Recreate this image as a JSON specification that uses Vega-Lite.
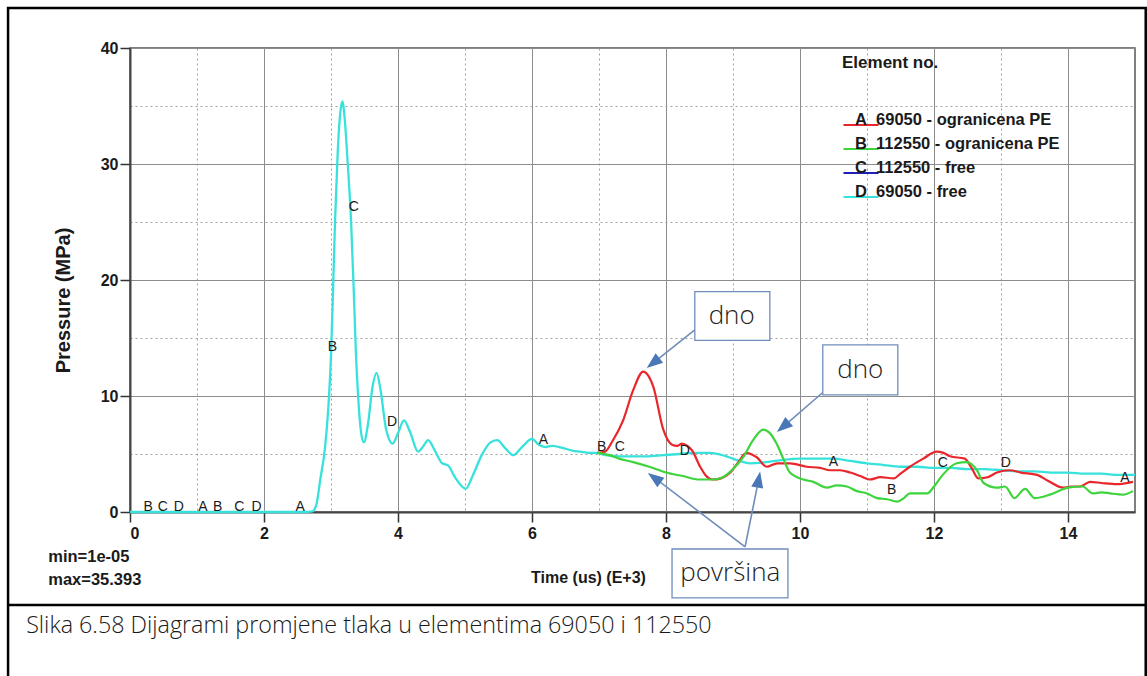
{
  "$schema": "https://vega.github.io/schema/vega-lite/v6.json",
  "width": 1005,
  "height": 464,
  "autosize": {"type": "none"},
  "padding": {"left": 130, "top": 48, "right": 12, "bottom": 164},
  "background": "white",
  "config": {
    "view": {"stroke": "#555555", "strokeWidth": 1.5},
    "font": "Liberation Sans",
    "axis": {
      "labelFont": "Liberation Sans",
      "labelFontSize": 16,
      "labelFontWeight": "bold",
      "labelColor": "#1a1a1a",
      "titleFont": "Liberation Sans",
      "titleFontWeight": "bold",
      "titleColor": "#1a1a1a",
      "domainColor": "#444444",
      "domainWidth": 2,
      "tickColor": "#333333",
      "tickWidth": 1.5,
      "tickSize": 10,
      "gridColor": "#8c8c8c",
      "gridWidth": 1,
      "gridOpacity": 1
    }
  },
  "datasets": {
    "curves": [
      {"s":"D","t":0,"p":0},{"s":"D","t":0.5,"p":0},{"s":"D","t":1,"p":0},{"s":"D","t":1.5,"p":0},{"s":"D","t":2,"p":0},{"s":"D","t":2.6,"p":0},
      {"s":"D","t":2.72,"p":0.05},{"s":"D","t":2.78,"p":0.6},{"s":"D","t":2.84,"p":2.8},{"s":"D","t":2.91,"p":5.5},{"s":"D","t":2.96,"p":9},
      {"s":"D","t":3.0,"p":13.5},{"s":"D","t":3.03,"p":19},{"s":"D","t":3.06,"p":25},{"s":"D","t":3.1,"p":31},{"s":"D","t":3.14,"p":34.5},
      {"s":"D","t":3.17,"p":35.39},{"s":"D","t":3.21,"p":33.5},{"s":"D","t":3.25,"p":30},{"s":"D","t":3.3,"p":25},{"s":"D","t":3.34,"p":19},
      {"s":"D","t":3.37,"p":14},{"s":"D","t":3.41,"p":9.5},{"s":"D","t":3.45,"p":6.8},{"s":"D","t":3.49,"p":6.0},{"s":"D","t":3.55,"p":7.5},
      {"s":"D","t":3.62,"p":10.8},{"s":"D","t":3.68,"p":12.0},{"s":"D","t":3.74,"p":10.5},{"s":"D","t":3.82,"p":7.2},{"s":"D","t":3.92,"p":5.9},
      {"s":"D","t":4.0,"p":6.8},{"s":"D","t":4.09,"p":7.9},{"s":"D","t":4.18,"p":6.9},{"s":"D","t":4.3,"p":5.2},{"s":"D","t":4.38,"p":5.7},
      {"s":"D","t":4.45,"p":6.2},{"s":"D","t":4.55,"p":5.3},{"s":"D","t":4.66,"p":4.2},{"s":"D","t":4.75,"p":4.0},{"s":"D","t":4.85,"p":3.0},
      {"s":"D","t":5.01,"p":2.0},{"s":"D","t":5.12,"p":3.2},{"s":"D","t":5.25,"p":4.9},{"s":"D","t":5.38,"p":6.0},{"s":"D","t":5.48,"p":6.2},
      {"s":"D","t":5.6,"p":5.5},{"s":"D","t":5.72,"p":4.9},{"s":"D","t":5.85,"p":5.6},{"s":"D","t":6.0,"p":6.3},{"s":"D","t":6.1,"p":5.8},
      {"s":"D","t":6.2,"p":5.6},{"s":"D","t":6.3,"p":5.7},{"s":"D","t":6.47,"p":5.5},{"s":"D","t":6.6,"p":5.3},{"s":"D","t":6.72,"p":5.2},
      {"s":"D","t":6.85,"p":5.1},{"s":"D","t":6.97,"p":5.1},{"s":"D","t":7.1,"p":4.9},{"s":"D","t":7.3,"p":4.8},{"s":"D","t":7.46,"p":4.8},
      {"s":"D","t":7.7,"p":4.8},{"s":"D","t":7.96,"p":4.9},{"s":"D","t":8.2,"p":5.0},{"s":"D","t":8.4,"p":5.1},{"s":"D","t":8.66,"p":5.1},
      {"s":"D","t":8.9,"p":4.8},{"s":"D","t":9.1,"p":4.4},{"s":"D","t":9.25,"p":4.2},{"s":"D","t":9.5,"p":4.3},{"s":"D","t":9.75,"p":4.5},
      {"s":"D","t":10.0,"p":4.6},{"s":"D","t":10.25,"p":4.6},{"s":"D","t":10.5,"p":4.6},{"s":"D","t":10.75,"p":4.4},{"s":"D","t":11.0,"p":4.2},
      {"s":"D","t":11.25,"p":4.05},{"s":"D","t":11.5,"p":3.9},{"s":"D","t":11.75,"p":3.9},{"s":"D","t":12.0,"p":3.8},{"s":"D","t":12.25,"p":3.8},
      {"s":"D","t":12.5,"p":3.7},{"s":"D","t":12.75,"p":3.7},{"s":"D","t":13.0,"p":3.6},{"s":"D","t":13.25,"p":3.5},{"s":"D","t":13.5,"p":3.5},
      {"s":"D","t":13.75,"p":3.4},{"s":"D","t":14.0,"p":3.4},{"s":"D","t":14.25,"p":3.3},{"s":"D","t":14.5,"p":3.3},{"s":"D","t":14.75,"p":3.2},
      {"s":"D","t":15.0,"p":3.2},
      {"s":"A","t":6.97,"p":5.1},{"s":"A","t":7.09,"p":5.2},{"s":"A","t":7.2,"p":6.1},{"s":"A","t":7.36,"p":7.9},{"s":"A","t":7.51,"p":10.5},
      {"s":"A","t":7.66,"p":12.1},{"s":"A","t":7.81,"p":10.8},{"s":"A","t":7.96,"p":7.1},{"s":"A","t":8.09,"p":5.8},{"s":"A","t":8.17,"p":5.7},
      {"s":"A","t":8.24,"p":5.9},{"s":"A","t":8.32,"p":5.7},{"s":"A","t":8.39,"p":5.3},{"s":"A","t":8.51,"p":3.9},{"s":"A","t":8.6,"p":3.1},
      {"s":"A","t":8.7,"p":2.8},{"s":"A","t":8.82,"p":2.9},{"s":"A","t":8.96,"p":3.4},{"s":"A","t":9.08,"p":4.3},{"s":"A","t":9.2,"p":5.1},
      {"s":"A","t":9.3,"p":4.9},{"s":"A","t":9.36,"p":4.7},{"s":"A","t":9.5,"p":3.9},{"s":"A","t":9.66,"p":4.2},{"s":"A","t":9.85,"p":4.2},
      {"s":"A","t":10.1,"p":3.9},{"s":"A","t":10.3,"p":3.8},{"s":"A","t":10.45,"p":3.6},{"s":"A","t":10.6,"p":3.6},{"s":"A","t":10.75,"p":3.4},
      {"s":"A","t":10.9,"p":3.1},{"s":"A","t":11.04,"p":2.8},{"s":"A","t":11.2,"p":3.0},{"s":"A","t":11.4,"p":2.9},{"s":"A","t":11.5,"p":3.3},
      {"s":"A","t":11.64,"p":3.9},{"s":"A","t":11.84,"p":4.6},{"s":"A","t":12.04,"p":5.2},{"s":"A","t":12.14,"p":5.1},{"s":"A","t":12.24,"p":4.8},
      {"s":"A","t":12.46,"p":4.6},{"s":"A","t":12.56,"p":3.8},{"s":"A","t":12.66,"p":2.9},{"s":"A","t":12.8,"p":3.0},{"s":"A","t":12.94,"p":3.4},
      {"s":"A","t":13.13,"p":3.6},{"s":"A","t":13.3,"p":3.4},{"s":"A","t":13.54,"p":3.2},{"s":"A","t":13.7,"p":2.7},{"s":"A","t":13.93,"p":2.1},
      {"s":"A","t":14.05,"p":2.2},{"s":"A","t":14.18,"p":2.2},{"s":"A","t":14.33,"p":2.6},{"s":"A","t":14.5,"p":2.5},{"s":"A","t":14.73,"p":2.4},
      {"s":"A","t":14.97,"p":2.6},
      {"s":"B","t":6.97,"p":5.1},{"s":"B","t":7.16,"p":4.9},{"s":"B","t":7.3,"p":4.6},{"s":"B","t":7.51,"p":4.3},{"s":"B","t":7.75,"p":3.9},
      {"s":"B","t":8.0,"p":3.4},{"s":"B","t":8.25,"p":3.1},{"s":"B","t":8.5,"p":2.8},{"s":"B","t":8.7,"p":2.8},{"s":"B","t":8.85,"p":3.0},
      {"s":"B","t":9.0,"p":3.7},{"s":"B","t":9.15,"p":4.7},{"s":"B","t":9.3,"p":6.2},{"s":"B","t":9.45,"p":7.1},{"s":"B","t":9.55,"p":6.8},
      {"s":"B","t":9.65,"p":5.9},{"s":"B","t":9.75,"p":4.6},{"s":"B","t":9.85,"p":3.4},{"s":"B","t":10.05,"p":2.8},{"s":"B","t":10.2,"p":2.6},
      {"s":"B","t":10.4,"p":2.1},{"s":"B","t":10.55,"p":2.3},{"s":"B","t":10.7,"p":2.2},{"s":"B","t":10.85,"p":1.8},{"s":"B","t":11.0,"p":1.6},
      {"s":"B","t":11.15,"p":1.2},{"s":"B","t":11.3,"p":1.1},{"s":"B","t":11.45,"p":0.9},{"s":"B","t":11.55,"p":1.2},{"s":"B","t":11.64,"p":1.6},
      {"s":"B","t":11.9,"p":1.6},{"s":"B","t":12.0,"p":2.2},{"s":"B","t":12.13,"p":3.2},{"s":"B","t":12.34,"p":4.2},{"s":"B","t":12.49,"p":4.3},
      {"s":"B","t":12.64,"p":3.6},{"s":"B","t":12.74,"p":2.5},{"s":"B","t":12.94,"p":2.1},{"s":"B","t":13.06,"p":2.2},{"s":"B","t":13.2,"p":1.2},
      {"s":"B","t":13.36,"p":2.0},{"s":"B","t":13.5,"p":1.2},{"s":"B","t":13.73,"p":1.5},{"s":"B","t":14.0,"p":2.1},{"s":"B","t":14.22,"p":2.2},
      {"s":"B","t":14.37,"p":1.6},{"s":"B","t":14.5,"p":1.7},{"s":"B","t":14.63,"p":1.6},{"s":"B","t":14.82,"p":1.5},{"s":"B","t":14.97,"p":1.8}
    ],
    "letters": [
      {"txt":"B","t":0.27,"p":0.45},{"txt":"C","t":0.49,"p":0.45},{"txt":"D","t":0.73,"p":0.45},{"txt":"A","t":1.09,"p":0.45},
      {"txt":"B","t":1.31,"p":0.45},{"txt":"C","t":1.63,"p":0.45},{"txt":"D","t":1.89,"p":0.45},{"txt":"A","t":2.54,"p":0.45},
      {"txt":"C","t":3.34,"p":26.3},{"txt":"B","t":3.02,"p":14.2},{"txt":"D","t":3.91,"p":7.8},{"txt":"A","t":6.17,"p":6.2},
      {"txt":"B","t":7.04,"p":5.6},{"txt":"C","t":7.31,"p":5.6},{"txt":"D","t":8.28,"p":5.3},{"txt":"A","t":10.5,"p":4.3},
      {"txt":"B","t":11.37,"p":1.9},{"txt":"C","t":12.13,"p":4.2},{"txt":"D","t":13.07,"p":4.2},{"txt":"A","t":14.85,"p":2.9}
    ],
    "boxes": [
      {"txt":"dno","t":8.43,"t2":9.55,"p":19.0,"p2":14.8,"tc":8.98,"pc":16.9},
      {"txt":"dno","t":10.34,"t2":11.46,"p":14.4,"p2":10.1,"tc":10.9,"pc":12.2},
      {"txt":"površina","t":8.09,"t2":9.82,"p":-3.19,"p2":-7.41,"tc":8.96,"pc":-5.3}
    ],
    "arrows": [
      {"id":"a1","t":8.43,"p":15.7,"t2":7.82,"p2":12.9},
      {"id":"a2","t":10.34,"p":10.3,"t2":9.76,"p2":7.4},
      {"id":"a3","t":9.18,"p":-3.0,"t2":7.84,"p2":2.9},
      {"id":"a4","t":9.18,"p":-3.0,"t2":9.38,"p2":2.7}
    ],
    "notes": [
      {"txt":"min=1e-05","t":-1.22,"p":-3.9},
      {"txt":"max=35.393","t":-1.22,"p":-5.9}
    ],
    "caption": [
      {"txt":"Slika 6.58 Dijagrami promjene tlaka u elementima 69050 i 112550","t":-1.55,"p":-9.83}
    ]
  },
  "layer": [
    {
      "data": {"name": "curves"},
      "transform": [{"filter": "datum.s === 'D'"}],
      "mark": {"type": "line", "strokeWidth": 2.3, "interpolate": "monotone"},
      "encoding": {
        "x": {
          "field": "t", "type": "quantitative",
          "scale": {"domain": [0, 15], "nice": false},
          "axis": {
            "values": [0,1,2,3,4,5,6,7,8,9,10,11,12,13,14],
            "format": "d",
            "title": "Time (us) (E+3)",
            "titleFontSize": 16,
            "titleX": 458,
            "titleY": 65,
            "titleBaseline": "middle",
            "titleAlign": "center",
            "labelExpr": "datum.value % 2 === 0 ? datum.label : ''",
            "labelPadding": 3,
            "tickOpacity": {"condition": {"test": "datum.value % 2 === 0", "value": 1}, "value": 0},
            "gridDash": {"condition": {"test": "datum.value % 2 === 1", "value": [2, 3]}, "value": []},
            "gridColor": {"condition": {"test": "datum.value % 2 === 1", "value": "#a0a0a0"}, "value": "#8c8c8c"}
          }
        },
        "y": {
          "field": "p", "type": "quantitative",
          "scale": {"domain": [0, 40], "nice": false},
          "axis": {
            "values": [0,5,10,15,20,25,30,35,40],
            "format": "d",
            "title": "Pressure (MPa)",
            "titleFontSize": 20,
            "titleX": -67,
            "titleY": 252,
            "titleAngle": 270,
            "titleAlign": "center",
            "titleBaseline": "middle",
            "labelExpr": "datum.value % 10 === 0 ? datum.label : ''",
            "labelPadding": 2,
            "tickOpacity": {"condition": {"test": "datum.value % 10 === 0", "value": 1}, "value": 0},
            "gridDash": {"condition": {"test": "datum.value % 10 !== 0", "value": [2, 3]}, "value": []},
            "gridColor": {"condition": {"test": "datum.value % 10 !== 0", "value": "#a0a0a0"}, "value": "#8c8c8c"}
          }
        },
        "color": {
          "field": "s", "type": "nominal",
          "scale": {"domain": ["A","B","C","D"], "range": ["#e8262b","#3dd43d","#2020b8","#38e2dc"]},
          "legend": {
            "orient": "none",
            "legendX": 712,
            "legendY": 7,
            "padding": 0,
            "title": "Element no.",
            "titleFont": "Liberation Sans",
            "titleFontSize": 17,
            "titleFontWeight": "bold",
            "titleColor": "#1a1a1a",
            "titlePadding": 34,
            "symbolType": "stroke",
            "symbolSize": 1225,
            "symbolStrokeWidth": 2.2,
            "labelFont": "Liberation Sans",
            "labelFontSize": 16.5,
            "labelFontWeight": "bold",
            "labelColor": "#1a1a1a",
            "labelBaseline": "alphabetic",
            "labelOffset": -25,
            "labelLimit": 400,
            "rowPadding": -10,
            "labelExpr": "datum.value === 'A' ? 'A\u00a0\u00a069050 - ogranicena PE' : datum.value === 'B' ? 'B\u00a0\u00a0112550 - ogranicena PE' : datum.value === 'C' ? 'C\u00a0\u00a0112550 - free' : 'D\u00a0\u00a069050 - free'"
          }
        }
      }
    },
    {
      "data": {"name": "curves"},
      "transform": [{"filter": "datum.s === 'A'"}],
      "mark": {"type": "line", "strokeWidth": 2.2, "interpolate": "monotone"},
      "encoding": {
        "x": {"field": "t", "type": "quantitative"},
        "y": {"field": "p", "type": "quantitative"},
        "color": {"field": "s", "type": "nominal"}
      }
    },
    {
      "data": {"name": "curves"},
      "transform": [{"filter": "datum.s === 'B'"}],
      "mark": {"type": "line", "strokeWidth": 2.2, "interpolate": "monotone"},
      "encoding": {
        "x": {"field": "t", "type": "quantitative"},
        "y": {"field": "p", "type": "quantitative"},
        "color": {"field": "s", "type": "nominal"}
      }
    },
    {
      "data": {"name": "letters"},
      "mark": {"type": "text", "font": "Liberation Sans", "fontSize": 14, "color": "#1a1a1a", "baseline": "middle", "align": "center"},
      "encoding": {
        "x": {"field": "t", "type": "quantitative"},
        "y": {"field": "p", "type": "quantitative"},
        "text": {"field": "txt"}
      }
    },
    {
      "data": {"name": "arrows"},
      "mark": {"type": "rule", "color": "#6f8dba", "strokeWidth": 1.6},
      "encoding": {
        "x": {"field": "t", "type": "quantitative"},
        "y": {"field": "p", "type": "quantitative"},
        "x2": {"field": "t2"},
        "y2": {"field": "p2"}
      }
    },
    {
      "data": {"name": "arrows"},
      "transform": [{"filter": "datum.id === 'a1'"}],
      "mark": {"type": "point", "shape": "M0,-1L0.65,0.75L-0.65,0.75Z", "filled": true, "color": "#4a78b6", "opacity": 1, "size": 340, "angle": 231.6},
      "encoding": {
        "x": {"field": "t2", "type": "quantitative"},
        "y": {"field": "p2", "type": "quantitative"}
      }
    },
    {
      "data": {"name": "arrows"},
      "transform": [{"filter": "datum.id === 'a2'"}],
      "mark": {"type": "point", "shape": "M0,-1L0.65,0.75L-0.65,0.75Z", "filled": true, "color": "#4a78b6", "opacity": 1, "size": 340, "angle": 229.7},
      "encoding": {
        "x": {"field": "t2", "type": "quantitative"},
        "y": {"field": "p2", "type": "quantitative"}
      }
    },
    {
      "data": {"name": "arrows"},
      "transform": [{"filter": "datum.id === 'a3'"}],
      "mark": {"type": "point", "shape": "M0,-1L0.65,0.75L-0.65,0.75Z", "filled": true, "color": "#4a78b6", "opacity": 1, "size": 340, "angle": 306.4},
      "encoding": {
        "x": {"field": "t2", "type": "quantitative"},
        "y": {"field": "p2", "type": "quantitative"}
      }
    },
    {
      "data": {"name": "arrows"},
      "transform": [{"filter": "datum.id === 'a4'"}],
      "mark": {"type": "point", "shape": "M0,-1L0.65,0.75L-0.65,0.75Z", "filled": true, "color": "#4a78b6", "opacity": 1, "size": 340, "angle": 10.4},
      "encoding": {
        "x": {"field": "t2", "type": "quantitative"},
        "y": {"field": "p2", "type": "quantitative"}
      }
    },
    {
      "data": {"name": "boxes"},
      "mark": {"type": "rect", "fill": "white", "stroke": "#6f8dba", "strokeWidth": 1.3},
      "encoding": {
        "x": {"field": "t", "type": "quantitative"},
        "x2": {"field": "t2"},
        "y": {"field": "p", "type": "quantitative"},
        "y2": {"field": "p2"}
      }
    },
    {
      "data": {"name": "boxes"},
      "mark": {"type": "text", "font": "Open Sans", "fontWeight": 300, "fontSize": 26, "color": "#222222", "baseline": "middle", "align": "center"},
      "encoding": {
        "x": {"field": "tc", "type": "quantitative"},
        "y": {"field": "pc", "type": "quantitative"},
        "text": {"field": "txt"}
      }
    },
    {
      "data": {"name": "notes"},
      "mark": {"type": "text", "font": "Liberation Sans", "fontWeight": "bold", "fontSize": 16.5, "color": "#1a1a1a", "baseline": "middle", "align": "left"},
      "encoding": {
        "x": {"field": "t", "type": "quantitative"},
        "y": {"field": "p", "type": "quantitative"},
        "text": {"field": "txt"}
      }
    },
    {
      "data": {"name": "caption"},
      "mark": {"type": "text", "font": "Open Sans", "fontWeight": 300, "fontSize": 23.3, "color": "#1a1a1a", "baseline": "middle", "align": "left"},
      "encoding": {
        "x": {"field": "t", "type": "quantitative"},
        "y": {"field": "p", "type": "quantitative"},
        "text": {"field": "txt"}
      }
    },
    {
      "data": {"values": [{}]},
      "mark": {"type": "rect", "fill": null, "fillOpacity": 0, "stroke": "black", "strokeWidth": 2.5},
      "encoding": {
        "x": {"datum": -1.82, "type": "quantitative"},
        "x2": {"datum": 15.16},
        "y": {"datum": 43.45, "type": "quantitative"},
        "y2": {"datum": -14.3}
      }
    },
    {
      "data": {"values": [{}]},
      "mark": {"type": "rule", "color": "black", "strokeWidth": 2.5},
      "encoding": {
        "x": {"datum": -1.82, "type": "quantitative"},
        "x2": {"datum": 15.16},
        "y": {"datum": -8.02, "type": "quantitative"}
      }
    }
  ]
}
